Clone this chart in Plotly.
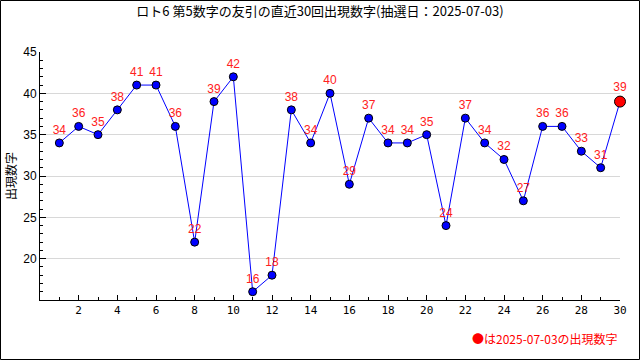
import plotly.graph_objects as go

draws = list(range(1, 31))
values = [34, 36, 35, 38, 41, 41, 36, 22, 39, 42, 16, 18, 38, 34, 40,
          29, 37, 34, 34, 35, 24, 37, 34, 32, 27, 36, 36, 33, 31, 39]
x_ticks = list(range(2, 31, 2))
y_ticks = [20, 25, 30, 35, 40, 45]
title = "ロト6 第5数字の友引の直近30回出現数字(抽選日：2025-07-03)"
y_title = "出現数字"
note = "●は2025-07-03の出現数字"

colors = ["#0000ff"] * (len(values) - 1) + ["#ff0000"]
sizes = [8] * (len(values) - 1) + [11]

L, R, T, B = 40, 20, 52, 60
W, H = 640, 360
pw, ph = W - L - R, H - T - B

fig = go.Figure()
fig.add_trace(go.Scatter(
    x=draws, y=values, mode="lines+markers+text",
    line=dict(color="#0000ff", width=1),
    marker=dict(color=colors, size=sizes, opacity=1,
                line=dict(color="#000000", width=1)),
    text=[str(v) for v in values], textposition="top center",
    textfont=dict(color="#ff2020", size=12, family="Liberation Sans"),
    cliponaxis=False, hoverinfo="skip",
))

fig.update_layout(
    width=W, height=H, margin=dict(l=L, r=R, t=T, b=B, autoexpand=False),
    paper_bgcolor="white", plot_bgcolor="white", showlegend=False,
    font=dict(family="Noto Sans CJK JP", color="#000000", size=11),
    title=dict(text=title, x=0.5, xanchor="center", y=1 - 11 / H, yanchor="middle",
               automargin=False,
               font=dict(size=13, family="Noto Sans CJK JP")),
    xaxis=dict(range=[0, 30], tickmode="array", tickvals=x_ticks,
               showgrid=False, zeroline=False, automargin=False,
               showline=True, linecolor="#000000", linewidth=1,
               ticks="inside", ticklen=5, tickcolor="#000000",
               minor=dict(dtick=1, tick0=0, ticks="inside", ticklen=3,
                          tickcolor="#000000", showgrid=False),
               tickfont=dict(size=11, family="DejaVu Sans Mono")),
    yaxis=dict(range=[15, 45], tickmode="array", tickvals=y_ticks,
               showgrid=True, gridcolor="#d8d8d8", automargin=False,
               zeroline=False, showline=True, linecolor="#000000", linewidth=1,
               ticks="inside", ticklen=6, tickcolor="#000000",
               minor=dict(dtick=1, tick0=0, ticks="inside", ticklen=3,
                          tickcolor="#000000", showgrid=False),
               tickfont=dict(size=12, family="Liberation Sans"),
               title=dict(text=y_title, standoff=4, font=dict(size=12))),
)

fig.add_annotation(text=note, xref="paper", yref="paper",
                   x=1.0, y=(300 - 338) / ph, xanchor="right", yanchor="middle",
                   showarrow=False, font=dict(color="#ff0000", size=12))

fig.add_shape(type="rect", xref="paper", yref="paper",
              x0=(0.5 - L) / pw, x1=(W - 0.5 - L) / pw,
              y0=(T + ph - (H - 0.5)) / ph, y1=(T + ph - 0.5) / ph,
              line=dict(color="#000000", width=1), layer="above")

fig.write_html("out.html", config={"displayModeBar": False},
               post_script="document.body.style.margin='0';document.body.style.overflow='hidden';")
